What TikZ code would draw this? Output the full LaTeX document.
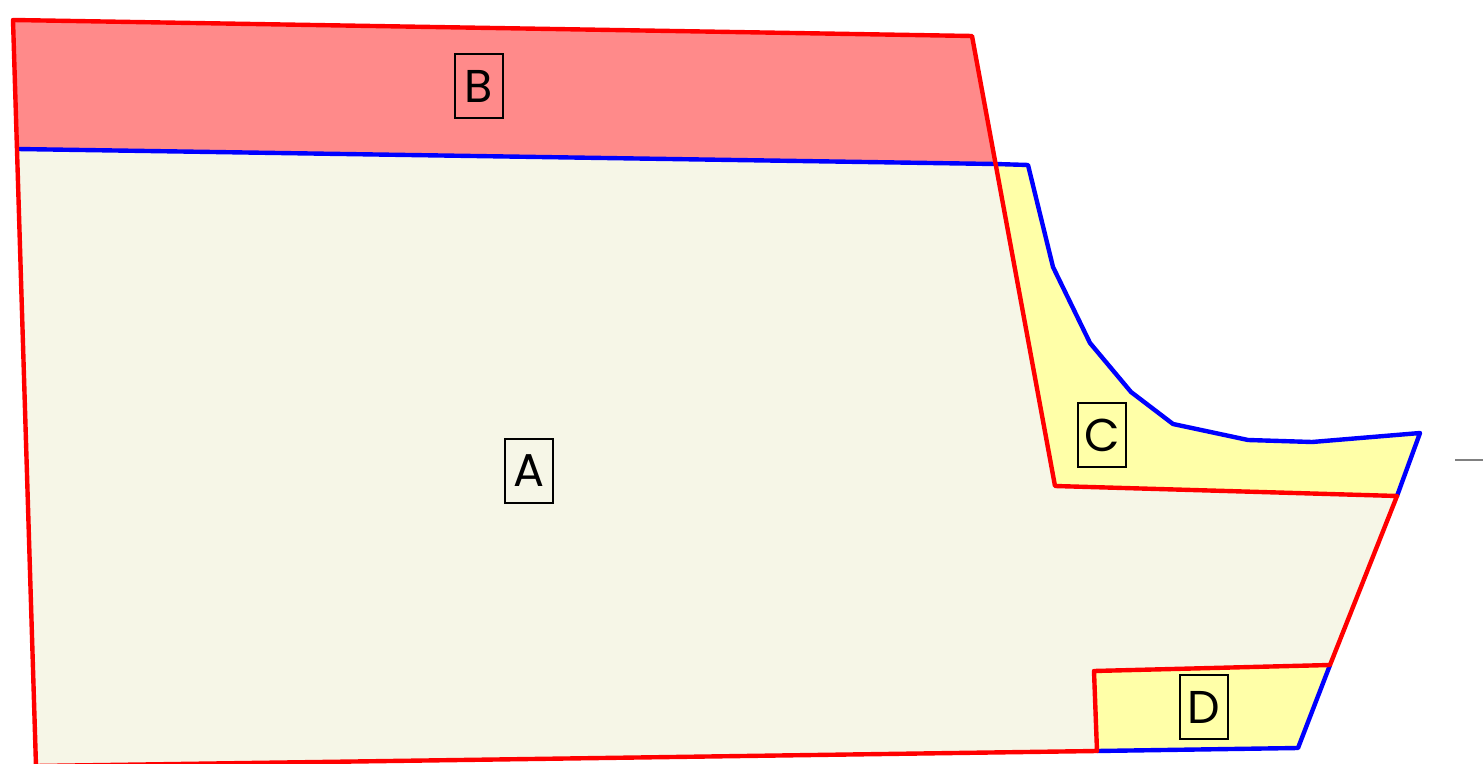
\documentclass[tikz,border=0pt]{standalone}
\usepackage{fontspec}
\setsansfont{Poppins}
\usepackage{tikz}
\tikzset{>=latex}
\definecolor{fillA}{HTML}{F6F6E7}
\definecolor{fillB}{HTML}{FF8A8A}
\definecolor{fillC}{HTML}{FFFFA8}
\tikzset{
  edge/.style={line width=2.2pt, line join=round},
  tag/.style={draw, line width=1.2pt, minimum width=24pt, minimum height=32pt, inner sep=0pt,
    font=\sffamily\fontsize{23}{23}\selectfont},
}

\begin{document}
\begin{tikzpicture}[x=0.5pt, y=-0.5pt]
  \useasboundingbox (0,0) rectangle (1483,764);

  % corners
  \coordinate (tl) at (13,20);
  \coordinate (tr) at (972,36);
  \coordinate (ml) at (17,149);
  \coordinate (mx) at (995,164);
  \coordinate (cl) at (1055,486);
  \coordinate (cr) at (1397,496);
  \coordinate (ct) at (1420,433);
  \coordinate (dtr) at (1330,665);
  \coordinate (dtl) at (1094,671);
  \coordinate (dbl) at (1097,751);
  \coordinate (dbr) at (1298,748);
  \coordinate (bl) at (36,766);

  % regions
  \fill[fillA] (ml) -- (mx) -- (cl) -- (cr) -- (dtr) -- (dtl) -- (dbl) -- (bl) -- cycle;
  \fill[fillB] (tl) -- (tr) -- (mx) -- (ml) -- cycle;
  \fill[fillC] (mx) -- (1028,165) -- (1053,267) -- (1090,343) -- (1131,392) -- (1173,424)
    -- (1248,440) -- (1312,442) -- (ct) -- (cr) -- (cl) -- cycle;
  \fill[fillC] (dtl) -- (dtr) -- (dbr) -- (dbl) -- cycle;

  % outlines
  \draw[edge, blue] (ml) -- (mx) -- (1028,165) -- (1053,267) -- (1090,343) -- (1131,392)
    -- (1173,424) -- (1248,440) -- (1312,442) -- (ct) -- (cr);
  \draw[edge, blue] (dtr) -- (dbr) -- (dbl);
  \draw[edge, red] (tl) -- (tr) -- (cl) -- (cr) -- (dtr) -- (dtl) -- (dbl) -- (bl) -- cycle;

  \draw[gray, line width=0.8pt] (1455,460) -- (1483,460);

  % labels
  \node[tag] (labelB) at (479,86) {B};
  \node[tag] (labelA) at (529,471) {A};
  \node[tag] (labelC) at (1102,435) {C};
  \node[tag] (labelD) at (1204,707) {D};
\end{tikzpicture}
\end{document}
